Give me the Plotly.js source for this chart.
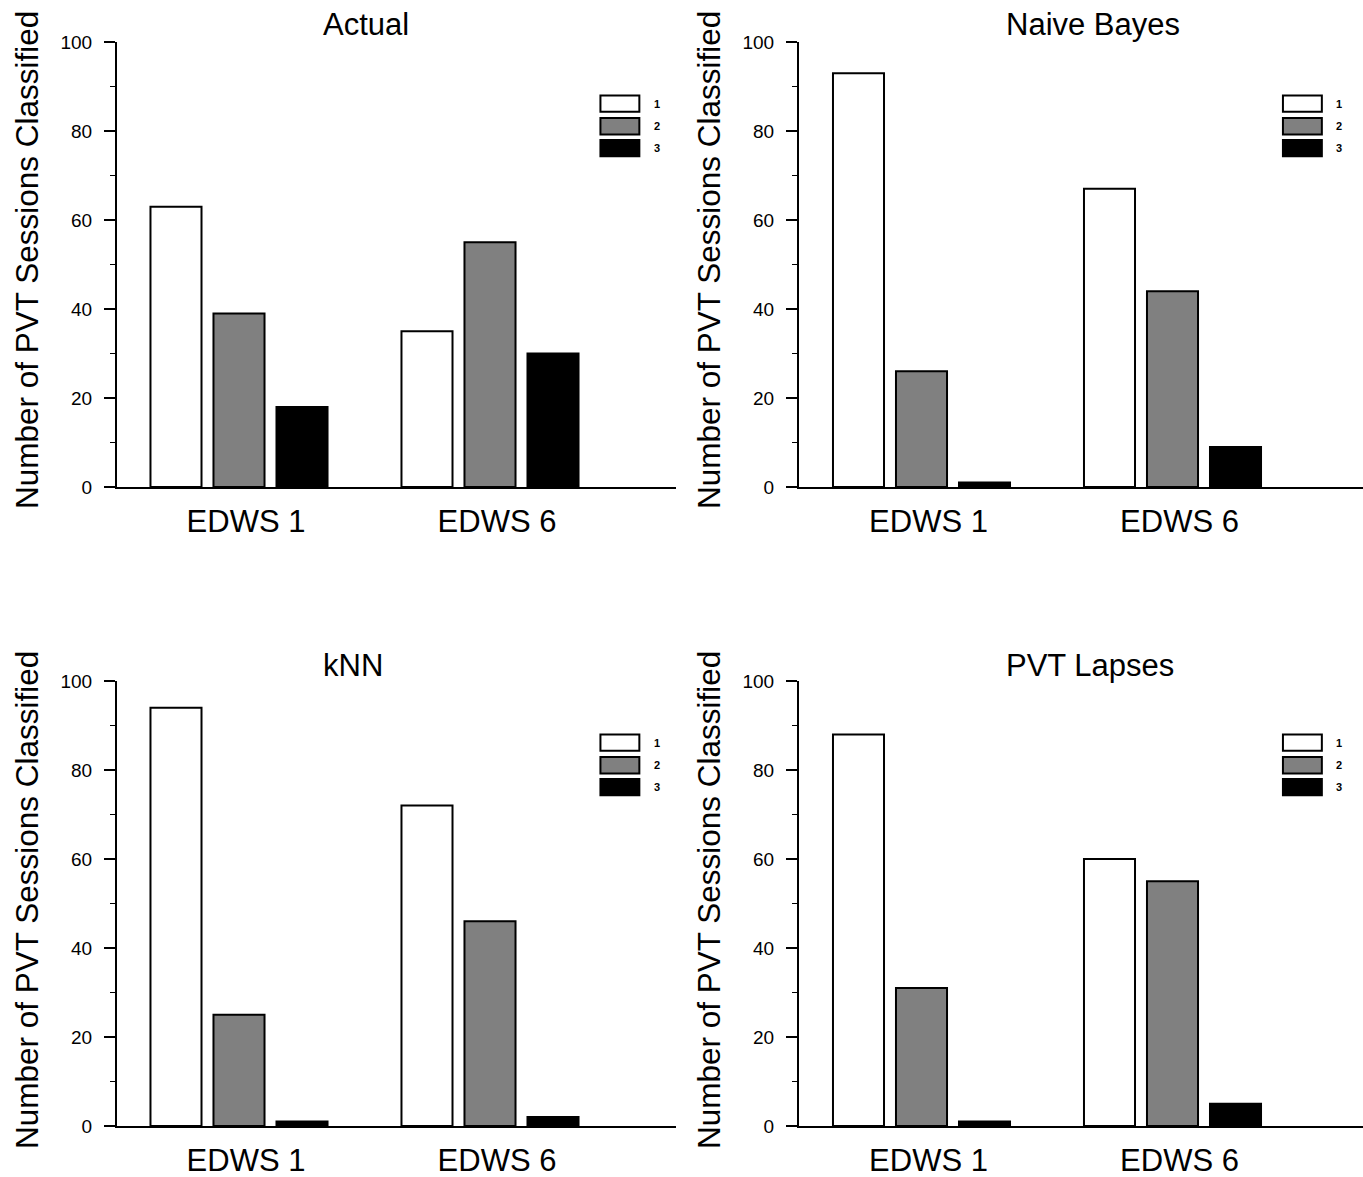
<!DOCTYPE html>
<html>
<head>
<meta charset="utf-8">
<script src="https://cdn.plot.ly/plotly-3.0.1.min.js"></script>
<style>html,body{margin:0;padding:0;background:#fff;}#chart{width:1363px;height:1177px;}</style>
</head>
<body>
<div id="chart"></div>
<script>
// ---- Data ----
const categories = ['EDWS 1', 'EDWS 6'];
const panelTitles = ['Actual', 'Naive Bayes', 'kNN', 'PVT Lapses'];
const seriesNames = ['1', '2', '3'];
const seriesColors = ['#ffffff', '#808080', '#000000'];

const actualS1 = [63, 35];
const actualS2 = [39, 55];
const actualS3 = [18, 30];

const naiveS1 = [93, 67];
const naiveS2 = [26, 44];
const naiveS3 = [1, 9];

const knnS1 = [94, 72];
const knnS2 = [25, 46];
const knnS3 = [1, 2];

const lapsesS1 = [88, 60];
const lapsesS2 = [31, 55];
const lapsesS3 = [1, 5];

const yTitle = 'Number of PVT Sessions Classified';
const yTickVals = [0, 20, 40, 60, 80, 100];

// ---- Build ----
const panels = [
  [actualS1, actualS2, actualS3],
  [naiveS1, naiveS2, naiveS3],
  [knnS1, knnS2, knnS3],
  [lapsesS1, lapsesS2, lapsesS3]
];

const W = 1363, H = 1177;
const FONT = '"Liberation Sans", Arial, Helvetica, sans-serif';
// panel geometry (pixels)
const geo = [
  {xl: 117, xr: 676, y0: 487, y100: 42, ttlX: 321, ttlY: 25, yTitleX: 27, yTitleY: 260},
  {xl: 799, xr: 1363, y0: 487, y100: 42, ttlX: 1004, ttlY: 25, yTitleX: 709, yTitleY: 260},
  {xl: 117, xr: 676, y0: 1126, y100: 681, ttlX: 321, ttlY: 665, yTitleX: 27, yTitleY: 900},
  {xl: 799, xr: 1363, y0: 1126, y100: 681, ttlX: 1004, ttlY: 665, yTitleX: 709, yTitleY: 900}
];
const groupCenter0 = [239, 921.5, 239, 921.5];
const pxPerCat = 251;

const traces = [];
const layout = {
  width: W, height: H,
  margin: {l: 0, r: 0, t: 0, b: 0},
  paper_bgcolor: '#fff', plot_bgcolor: 'rgba(0,0,0,0)',
  showlegend: false,
  barmode: 'group',
  bargap: 0.247,
  bargroupgap: 0.19,
  font: {family: FONT, color: '#000'},
  annotations: [],
  shapes: []
};

panels.forEach((ser, p) => {
  const sfx = p === 0 ? '' : String(p + 1);
  const xa = 'x' + sfx, ya = 'y' + sfx;
  const g = geo[p];
  ser.forEach((vals, i) => {
    traces.push({
      type: 'bar', x: categories, y: vals, name: seriesNames[i],
      xaxis: xa, yaxis: ya,
      marker: {color: seriesColors[i], line: {color: '#000', width: 2}},
      hoverinfo: 'x+y+name'
    });
  });
  const c0 = groupCenter0[p];
  layout['xaxis' + sfx] = {
    type: 'category',
    domain: [g.xl / W, g.xr / W],
    range: [(g.xl - c0) / pxPerCat, (g.xr - c0) / pxPerCat],
    anchor: ya,
    showline: true, linecolor: '#000', linewidth: 2,
    ticks: '', showgrid: false, zeroline: false,
    tickfont: {family: FONT, size: 31, color: '#000'},
    ticklabelstandoff: 6,
    ticklabelshift: 7,
    fixedrange: true
  };
  layout['yaxis' + sfx] = {
    domain: [(H - g.y0) / H, (H - g.y100) / H],
    range: [0, 100],
    anchor: xa,
    showline: true, linecolor: '#000', linewidth: 2,
    ticks: 'outside', ticklen: 11, tickwidth: 1.5, tickcolor: '#000',
    tickvals: yTickVals,
    minor: {dtick: 10, ticks: 'outside', ticklen: 5, tickwidth: 1.5, tickcolor: '#000', showgrid: false},
    showgrid: false, zeroline: false,
    tickfont: {family: FONT, size: 19, color: '#000'},
    ticklabelstandoff: 8,
    fixedrange: true
  };
  // panel title
  layout.annotations.push({
    text: panelTitles[p], xref: 'paper', yref: 'paper',
    x: g.ttlX / W, y: (H - g.ttlY) / H, xanchor: 'left', yanchor: 'middle',
    showarrow: false, font: {family: FONT, size: 31, color: '#000'}
  });
  // y axis title
  layout.annotations.push({
    text: yTitle, xref: 'paper', yref: 'paper', textangle: -90,
    x: g.yTitleX / W, y: (H - g.yTitleY) / H, xanchor: 'center', yanchor: 'middle',
    showarrow: false, font: {family: FONT, size: 31.5, color: '#000'}
  });
  // legend swatches
  const legTop = [88, 82.9, 78.0];
  seriesNames.forEach((nm, i) => {
    layout.shapes.push({
      type: 'rect', xref: xa, yref: ya,
      x0: 1.44, x1: 1.595, y0: legTop[i] - 3.7, y1: legTop[i],
      fillcolor: seriesColors[i], line: {color: '#000', width: 2}
    });
    layout.annotations.push({
      text: '<b>' + nm + '</b>', xref: xa, yref: ya, x: 1.665, y: legTop[i] - 1.85,
      xanchor: 'center', yanchor: 'middle', showarrow: false,
      font: {family: FONT, size: 11, color: '#000'}
    });
  });
});

Plotly.newPlot('chart', traces, layout, {displayModeBar: false, staticPlot: true});
</script>
</body>
</html>
